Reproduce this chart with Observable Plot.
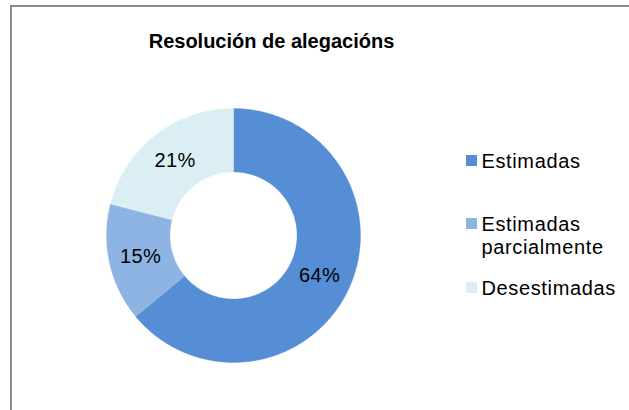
<!DOCTYPE html>
<html>
<head>
<meta charset="utf-8">
<script src="https://cdn.jsdelivr.net/npm/d3@7"></script>
<script src="https://cdn.jsdelivr.net/npm/@observablehq/plot@0.6"></script>
<style>
  html, body { margin: 0; padding: 0; background: #fff; width: 629px; height: 410px; overflow: hidden; }
  body { position: relative; font-family: "Liberation Sans", Arial, sans-serif; }
  #frame { position: absolute; left: 10px; top: 5px; width: 800px; height: 600px; border: 2px solid #8c8c8c; box-sizing: border-box; }
  #title { position: absolute; left: 271.5px; top: 29.5px; transform: translateX(-50%); white-space: nowrap;
           font-weight: bold; font-size: 20px; line-height: 23px; color: #000; }
  #chart { position: absolute; left: 105.7px; top: 108px; }
  #legend { position: absolute; left: 466px; top: 149.9px; }
  #legend .leg-swatches { font-family: "Liberation Sans", Arial, sans-serif !important; font-size: 20px !important; margin: 0 !important; color: #000; line-height: 23px; }
  #legend .leg-swatch { display: flex !important; align-items: flex-start !important; height: 63.4px; padding: 0 !important; margin: 0 !important; }
  #legend .leg-swatch::before { display: none !important; }
  #legend .leg-swatch > svg { margin: 5.1px 4.4px 0 0 !important; flex-shrink: 0; }
  #legend .leg-swatch-label { white-space: normal !important; overflow: visible !important; width: 150px; line-height: 23px; letter-spacing: 0.65px; }
</style>
</head>
<body>
<div id="frame"></div>
<div id="title">Resolución de alegacións</div>
<div id="chart"></div>
<div id="legend"></div>
<script>
const categories = ["Estimadas", "Estimadas parcialmente", "Desestimadas"];
const values = [64, 15, 21];
const colors = ["#558ED5", "#8EB4E3", "#DBEEF4"];
const labels = ["64%", "15%", "21%"];

const outerR = 1, innerR = 0.5;
const total = d3.sum(values);

// build slice polygons (geometry derived from the values)
const polys = [];
const centroids = [];
let acc = 0;
categories.forEach((cat, i) => {
  const a0 = acc / total * 2 * Math.PI;
  acc += values[i];
  const a1 = acc / total * 2 * Math.PI;
  const n = Math.max(2, Math.ceil((a1 - a0) / (Math.PI / 360)));
  for (let k = 0; k <= n; k++) {
    const a = a0 + (a1 - a0) * k / n;
    polys.push({cat, x: outerR * Math.sin(a), y: outerR * Math.cos(a)});
  }
  for (let k = n; k >= 0; k--) {
    const a = a0 + (a1 - a0) * k / n;
    polys.push({cat, x: innerR * Math.sin(a), y: innerR * Math.cos(a)});
  }
  const am = (a0 + a1) / 2, rm = (outerR + innerR) / 2;
  centroids.push({cat, label: labels[i], x: rm * Math.sin(am), y: rm * Math.cos(am)});
});

const colorScale = {type: "ordinal", domain: categories, range: colors};

const plot = Plot.plot({
  width: 254,
  height: 254,
  margin: 0,
  x: {domain: [-1, 1], axis: null},
  y: {domain: [-1, 1], axis: null},
  color: colorScale,
  style: {fontFamily: "Liberation Sans, Arial, sans-serif", background: "transparent", overflow: "visible"},
  marks: [
    Plot.line(polys, {x: "x", y: "y", z: "cat", fill: "cat", stroke: "cat", strokeWidth: 0.3, curve: "linear-closed"}),
    Plot.text(centroids, {x: "x", y: "y", text: "label", fontSize: 20, fill: "#000", textAnchor: "middle", style: "letter-spacing:0.4px"})
  ]
});
plot.querySelectorAll("text").forEach(t => t.style.letterSpacing = "0.4px");
document.getElementById("chart").appendChild(plot);

const legend = Plot.legend({
  color: colorScale,
  legend: "swatches",
  columns: 1,
  swatchSize: 11,
  className: "leg"
});
document.getElementById("legend").appendChild(legend);
</script>
</body>
</html>
